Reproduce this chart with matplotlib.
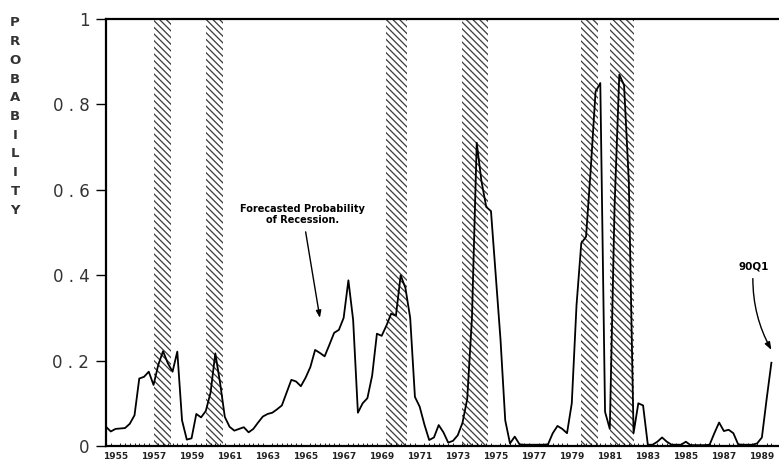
import matplotlib

matplotlib.use("Agg")
import matplotlib.pyplot as plt  # noqa: E402
import numpy as np  # noqa: E402

# quarterly recession probability, 1955Q1 .. 1990Q1
quarters = np.arange(1955.0, 1990.01, 0.25)
prob = [
    0.045, 0.034, 0.040, 0.041,  # 1955
    0.042, 0.052, 0.072, 0.158,  # 1956
    0.162, 0.174, 0.143, 0.190,  # 1957
    0.222, 0.194, 0.174, 0.221,  # 1958
    0.060, 0.015, 0.018, 0.075,  # 1959
    0.067, 0.082, 0.125, 0.217,  # 1960
    0.148, 0.068, 0.045, 0.036,  # 1961
    0.040, 0.044, 0.032, 0.040,  # 1962
    0.055, 0.069, 0.075, 0.078,  # 1963
    0.086, 0.095, 0.125, 0.155,  # 1964
    0.151, 0.140, 0.160, 0.185,  # 1965
    0.225, 0.218, 0.210, 0.237,  # 1966
    0.265, 0.272, 0.300, 0.388,  # 1967
    0.295, 0.078, 0.100, 0.112,  # 1968
    0.165, 0.263, 0.258, 0.282,  # 1969
    0.310, 0.305, 0.400, 0.370,  # 1970
    0.300, 0.115, 0.092, 0.050,  # 1971
    0.014, 0.020, 0.049, 0.032,  # 1972
    0.008, 0.012, 0.025, 0.054,  # 1973
    0.110, 0.300, 0.710, 0.620,  # 1974
    0.560, 0.550, 0.400, 0.250,  # 1975
    0.060, 0.006, 0.022, 0.004,  # 1976
    0.003, 0.003, 0.003, 0.003,  # 1977
    0.003, 0.004, 0.030, 0.047,  # 1978
    0.040, 0.030, 0.100, 0.330,  # 1979
    0.475, 0.490, 0.650, 0.830,  # 1980
    0.850, 0.080, 0.040, 0.560,  # 1981
    0.870, 0.845, 0.620, 0.030,  # 1982
    0.100, 0.095, 0.003, 0.003,  # 1983
    0.010, 0.020, 0.010, 0.003,  # 1984
    0.003, 0.003, 0.010, 0.002,  # 1985
    0.002, 0.002, 0.002, 0.003,  # 1986
    0.030, 0.055, 0.035, 0.038,  # 1987
    0.030, 0.004, 0.003, 0.003,  # 1988
    0.003, 0.006, 0.020, 0.110,  # 1989
    0.195,                       # 1990Q1
]

# NBER recessions (shaded)
rec_start = [1957.5, 1960.25, 1969.75, 1973.75, 1980.0, 1981.5]
rec_end = [1958.4, 1961.15, 1970.85, 1975.08, 1980.87, 1982.76]

year_labels = list(range(1955, 1990, 2))
y_ticks = [0, 0.2, 0.4, 0.6, 0.8, 1]
y_tick_labels = ["0", "0 . 2", "0 . 4", "0 . 6", "0 . 8", "1"]

plt.rcParams["hatch.linewidth"] = 0.9

fig = plt.figure(figsize=(7.79, 4.66), dpi=100)
ax = fig.add_axes([106 / 779, 20 / 466, 673 / 779, 427 / 466])

for s, e in zip(rec_start, rec_end):
    ax.axvspan(s, e, facecolor="none", edgecolor="#3a3a3a", hatch="\\" * 5,
               linewidth=0, zorder=1)

ax.plot(quarters, prob, color="black", lw=1.3, zorder=3)

ax.set_xlim(1955.0, 1990.4)
ax.set_ylim(0, 1)

ax.set_yticks(y_ticks)
ax.set_yticklabels(y_tick_labels, fontsize=12, color="#333333")
ax.tick_params(axis="y", direction="out", length=7.5, width=1.0, pad=4.5)

# year labels sit under the middle of each year, quarterly minor ticks
ax.set_xticks([y + 0.5 for y in year_labels])
ax.set_xticklabels([str(y) for y in year_labels], fontsize=6.5,
                   fontweight="bold", color="#222222")
ax.tick_params(axis="x", length=0, pad=4)
ax.set_xticks(quarters, minor=True)
ax.tick_params(axis="x", which="minor", direction="in", length=2, width=0.6)

for side in ("left", "bottom", "top"):
    ax.spines[side].set_linewidth(1.6)
ax.spines["right"].set_visible(False)

ax.annotate("Forecasted Probability\nof Recession.",
            xy=(1966.25, 0.30), xytext=(1965.35, 0.542),
            ha="center", va="center", fontsize=7, fontweight="bold",
            linespacing=1.1,
            arrowprops=dict(arrowstyle="-|>,head_length=0.6,head_width=0.22",
                            color="black", lw=1.0, shrinkA=3, shrinkB=0))

ax.annotate("90Q1", xy=(1990.0, 0.225), xytext=(1989.05, 0.42),
            ha="center", va="center", fontsize=7.5, fontweight="bold",
            arrowprops=dict(arrowstyle="-|>,head_length=0.6,head_width=0.22",
                            color="black", lw=1.0, shrinkA=3, shrinkB=0,
                            connectionstyle="arc3,rad=0.15"))

# stacked axis title
for i, ch in enumerate("PROBABILITY"):
    fig.text(15 / 779, 1 - (23 + i * 18.7) / 466, ch, ha="center",
             va="center", fontsize=9.5, fontweight="bold", color="#333333")

fig.savefig("out.png", dpi=100)
